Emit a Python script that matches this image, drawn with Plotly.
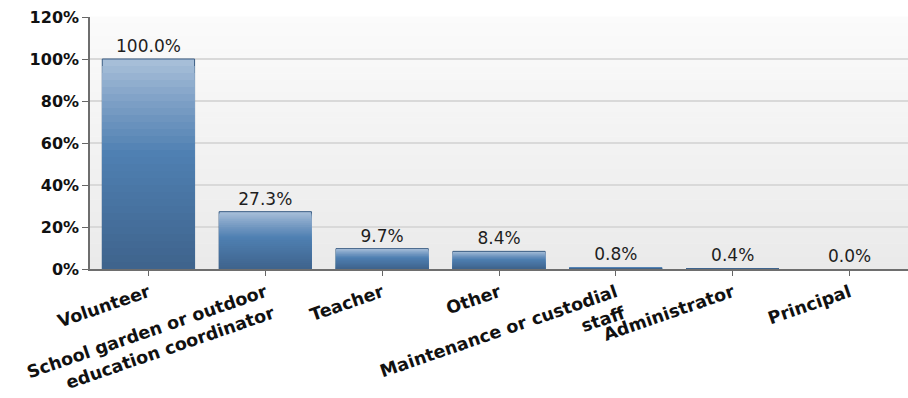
import plotly.graph_objects as go

# Survey results: share of respondents per role
categories = [
    "Volunteer",
    "School garden or outdoor<br>education coordinator",
    "Teacher",
    "Other",
    "Maintenance or custodial<br>staff",
    "Administrator",
    "Principal",
]
percent_values = [100.0, 27.3, 9.7, 8.4, 0.8, 0.4, 0.0]
y_tick_values = [0, 20, 40, 60, 80, 100, 120]
y_tick_labels = ["0%", "20%", "40%", "60%", "80%", "100%", "120%"]


def lerp_color(c1, c2, t):
    return "#%02x%02x%02x" % tuple(int(round(a + (b - a) * t)) for a, b in zip(c1, c2))


def bar_shade(t):
    # t = 0 at bar bottom, 1 at bar top
    stops = [
        (0.0, (0x3e, 0x63, 0x8c)),
        (0.55, (0x4f, 0x80, 0xb2)),
        (0.8, (0x7e, 0xa0, 0xc6)),
        (1.0, (0xaa, 0xc1, 0xda)),
    ]
    for (t0, c0), (t1, c1) in zip(stops, stops[1:]):
        if t <= t1:
            return lerp_color(c0, c1, (t - t0) / (t1 - t0))
    return lerp_color(stops[-1][1], stops[-1][1], 0)


fig = go.Figure()

# Vertical gradient on every bar: overlaid bands, each shorter than the last
n_bands = 30
for k in range(n_bands):
    frac = 1 - k / n_bands
    t_mid = 1 - (k + 0.5) / n_bands
    first = k == 0
    fig.add_trace(
        go.Bar(
            x=categories,
            y=[v * frac for v in percent_values],
            marker=dict(
                color=bar_shade(t_mid),
                line=dict(
                    color="#3a5d84",
                    width=[1 if (first and v >= 1) else 0 for v in percent_values],
                ),
            ),
            text=[f"{v:.1f}%" for v in percent_values] if first else None,
            textposition="outside" if first else "none",
            textfont=dict(family="DejaVu Sans", size=17, color="#1e1e1e"),
            cliponaxis=False,
            hoverinfo="skip" if not first else None,
            showlegend=False,
        )
    )

# Plot-area background: light vertical gradient
shapes = []
n_bg = 40
for i in range(n_bg):
    t = i / n_bg
    shapes.append(
        dict(
            type="rect",
            xref="paper",
            yref="paper",
            x0=0,
            x1=1,
            y0=t,
            y1=t + 1 / n_bg + 0.002,
            fillcolor=lerp_color((0xea, 0xea, 0xea), (0xfb, 0xfb, 0xfb), t),
            line=dict(width=0),
            layer="below",
        )
    )

fig.update_layout(
    width=908,
    height=398,
    margin=dict(l=90, r=0, t=17, b=129),
    paper_bgcolor="white",
    plot_bgcolor="white",
    barmode="overlay",
    bargap=0.21,
    shapes=shapes,
    xaxis=dict(
        tickangle=-19,
        tickfont=dict(family="DejaVu Sans", size=17.5, color="#111111", weight="bold"),
        ticks="outside",
        ticklen=5,
        tickcolor="#666666",
        showline=True,
        linecolor="#6e6e6e",
        linewidth=1.5,
        showgrid=False,
        automargin=False,
        fixedrange=True,
    ),
    yaxis=dict(
        range=[0, 120],
        tickmode="array",
        tickvals=y_tick_values,
        ticktext=y_tick_labels,
        tickfont=dict(family="DejaVu Sans", size=16, color="#111111", weight="bold"),
        ticks="outside",
        ticklen=6,
        tickcolor="#666666",
        showline=True,
        linecolor="#6e6e6e",
        linewidth=1.5,
        showgrid=True,
        gridcolor="#d9d9d9",
        gridwidth=1.5,
        zeroline=False,
        automargin=False,
        fixedrange=True,
    ),
)

fig.write_html("out.html")
